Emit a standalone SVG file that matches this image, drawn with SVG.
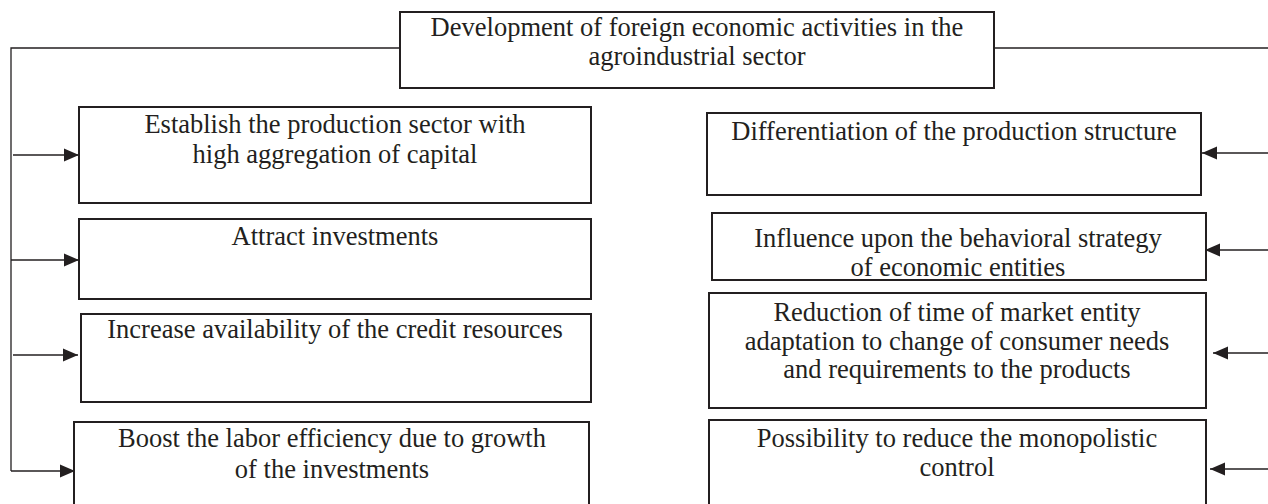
<svg xmlns="http://www.w3.org/2000/svg" width="1268" height="504" viewBox="0 0 1268 504">
<style>
.box{fill:#fff;stroke:#231f20;stroke-width:2}
.con{fill:none;stroke:#231f20;stroke-width:1.3}
.t{font-family:"Liberation Serif","Times New Roman",serif;font-size:26.5px;fill:#231f20;text-anchor:middle}
</style>
<defs>
<marker id="ah" markerUnits="userSpaceOnUse" markerWidth="16" markerHeight="14" refX="15" refY="7" orient="auto">
<path d="M0,0.5 L15,7 L0,13.5 Z" fill="#231f20"/>
</marker>
</defs>
<rect width="1268" height="504" fill="#fff"/>
<g id="connectors">
<path class="con" d="M400,48 H11 V471"/>
<path class="con" d="M994,48 H1268"/>
<path class="con" d="M13,155 H79" marker-end="url(#ah)"/>
<path class="con" d="M11,260 H79" marker-end="url(#ah)"/>
<path class="con" d="M13,355 H78" marker-end="url(#ah)"/>
<path class="con" d="M11,471 H75" marker-end="url(#ah)"/>
<path class="con" d="M1268,153 H1202" marker-end="url(#ah)"/>
<path class="con" d="M1268,250 H1205" marker-end="url(#ah)"/>
<path class="con" d="M1268,353 H1213" marker-end="url(#ah)"/>
<path class="con" d="M1268,469 H1210" marker-end="url(#ah)"/>
</g>
<g id="top">
<rect class="box" x="400" y="12" width="594" height="76"/>
<text class="t" x="697" y="36">Development of foreign economic activities in the</text>
<text class="t" x="697" y="65">agroindustrial sector</text>
</g>
<g id="l1">
<rect class="box" x="79" y="107" width="512" height="96"/>
<text class="t" x="335" y="133">Establish the production sector with</text>
<text class="t" x="335" y="163">high aggregation of capital</text>
</g>
<g id="l2">
<rect class="box" x="79" y="219" width="512" height="80"/>
<text class="t" x="335" y="245">Attract investments</text>
</g>
<g id="l3">
<rect class="box" x="81" y="314" width="510" height="88"/>
<text class="t" x="335" y="338">Increase availability of the credit resources</text>
</g>
<g id="l4">
<rect class="box" x="74" y="422" width="515" height="90"/>
<text class="t" x="332" y="447">Boost the labor efficiency due to growth</text>
<text class="t" x="332" y="478">of the investments</text>
</g>
<g id="r1">
<rect class="box" x="707" y="113" width="494" height="82"/>
<text class="t" x="954" y="140">Differentiation of the production structure</text>
</g>
<g id="r2">
<rect class="box" x="712" y="213" width="494" height="67"/>
<text class="t" x="958" y="247">Influence upon the behavioral strategy</text>
<text class="t" x="958" y="276">of economic entities</text>
</g>
<g id="r3">
<rect class="box" x="709" y="293" width="497" height="115"/>
<text class="t" x="957" y="321">Reduction of time of market entity</text>
<text class="t" x="957" y="350">adaptation to change of consumer needs</text>
<text class="t" x="957" y="378">and requirements to the products</text>
</g>
<g id="r4">
<rect class="box" x="709" y="420" width="497" height="92"/>
<text class="t" x="957" y="447">Possibility to reduce the monopolistic</text>
<text class="t" x="957" y="476">control</text>
</g>
</svg>
